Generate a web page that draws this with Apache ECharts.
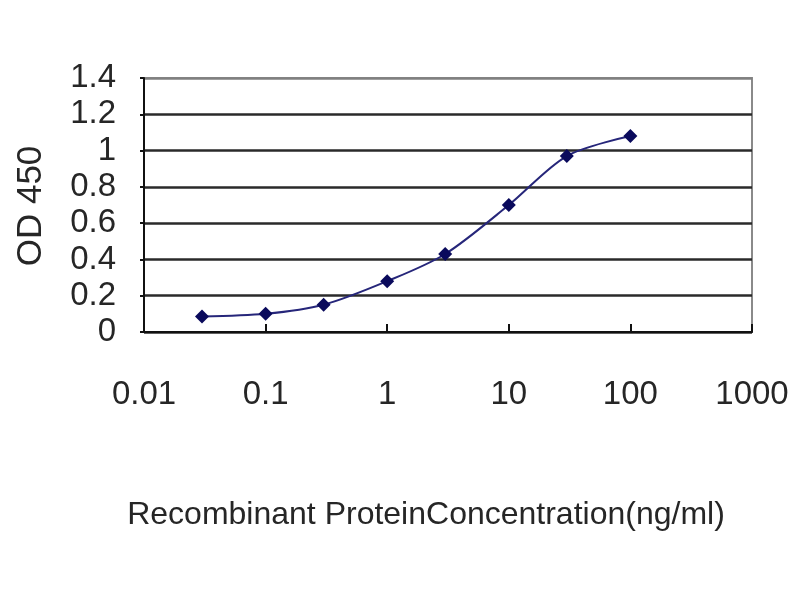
<!DOCTYPE html>
<html>
<head>
<meta charset="utf-8">
<script src="https://cdn.jsdelivr.net/npm/echarts@6/dist/echarts.min.js"></script>
<style>html,body{margin:0;padding:0;background:#fff}#c{width:800px;height:600px}</style>
</head>
<body>
<div id="c"></div>
<script>
const concentrations = [0.03, 0.1, 0.3, 1, 3, 10, 30, 100];
const od450 = [0.085, 0.10, 0.15, 0.28, 0.43, 0.70, 0.97, 1.08];
const yTitle = 'OD 450';
const xTitle = 'Recombinant ProteinConcentration(ng/ml)';

const FONT = "'Liberation Sans', Arial, sans-serif";
const GRID = '#2a2a2a';
const chart = echarts.init(document.getElementById('c'));
chart.setOption({
  animation: false,
  backgroundColor: '#fff',
  grid: { left: 144, right: 48, top: 78, bottom: 268, show: true, borderColor: '#8a8a8a', borderWidth: 2, backgroundColor: '#fff' },
  xAxis: {
    type: 'log', logBase: 10, min: 0.01, max: 1000,
    axisLine: { show: true, lineStyle: { color: '#111', width: 2 } },
    axisTick: { show: true, inside: true, length: 8, lineStyle: { color: '#111', width: 2 } },
    minorTick: { show: false },
    splitLine: { show: false },
    axisLabel: {
      margin: 46, fontSize: 33, color: '#262626', fontFamily: FONT,
      formatter: v => String(parseFloat(Number(v).toPrecision(6)))
    }
  },
  yAxis: {
    type: 'value', min: 0, max: 1.4, interval: 0.2,
    axisLine: { show: true, lineStyle: { color: '#111', width: 2 } },
    axisTick: { show: true, length: 4, lineStyle: { color: '#111', width: 2 } },
    splitLine: { show: true, lineStyle: { color: [GRID, GRID, GRID, GRID, GRID, GRID, GRID, '#808080'], width: 2.5 } },
    axisLabel: { margin: 28, fontSize: 33, color: '#262626', fontFamily: FONT }
  },
  graphic: [
    { type: 'text', x: 31, y: 206, rotation: Math.PI / 2,
      style: { text: yTitle, fontSize: 35, fill: '#262626', fontFamily: FONT, align: 'center', verticalAlign: 'middle' } },
    { type: 'text', x: 426, y: 515,
      style: { text: xTitle, fontSize: 32, fill: '#262626', fontFamily: FONT, align: 'center', verticalAlign: 'middle' } }
  ],
  series: [{
    type: 'line',
    data: concentrations.map((c, i) => [c, od450[i]]),
    smooth: 0.3,
    symbol: 'diamond', symbolSize: 14,
    lineStyle: { color: '#26267a', width: 2 },
    itemStyle: { color: '#0a0a5c' }
  }]
});
</script>
</body>
</html>
